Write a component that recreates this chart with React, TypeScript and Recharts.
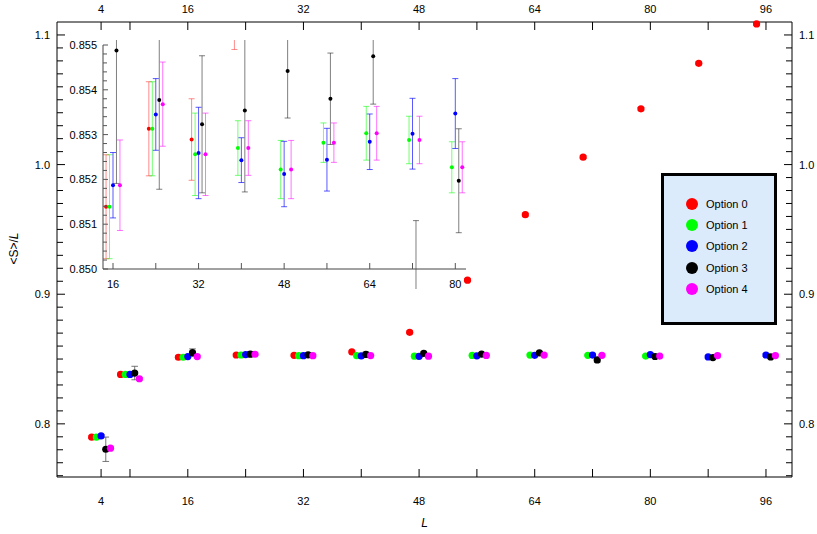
import React from 'react';
import { ScatterChart, Scatter, XAxis, YAxis, ErrorBar, Legend } from 'recharts';

// ---------- data ----------
const sizes = [4, 8, 16, 24, 32, 40, 48, 56, 64, 72, 80, 88, 96];
const seriesNames = ['Option 0', 'Option 1', 'Option 2', 'Option 3', 'Option 4'];

const opt0 = [0.7897, 0.8381, 0.85139, 0.85313, 0.85289, 0.8555, 0.8706, 0.9108, 0.9614, 1.0057, 1.043, 1.0781, 1.1085];
const err0 = [0.001, 0.001, 0.00116, 0.00105, 0.00091, 0.0006, 0.001, 0.001, 0.001, 0.001, 0.001, 0.001, 0.001];

const opt1 = [0.7897, 0.8381, 0.85139, 0.85313, 0.85256, 0.8527, 0.85222, 0.85282, 0.85303, 0.85288, 0.85227, null, null];
const err1 = [0.001, 0.001, 0.00116, 0.00105, 0.00092, 0.00061, 0.00065, 0.00044, 0.0006, 0.00053, 0.00057, null, null];

const opt2 = [0.7907, 0.8381, 0.85187, 0.85345, 0.85259, 0.85243, 0.85212, 0.85244, 0.85284, 0.85302, 0.85347, 0.8516, 0.8531];
const err2 = [0.001, 0.001, 0.00073, 0.0008, 0.00102, 0.0005, 0.00073, 0.0007, 0.00062, 0.00079, 0.00078, 0.001, 0.001];

const opt3 = [0.7804, 0.8392, 0.85488, 0.85377, 0.85323, 0.85354, 0.85442, 0.8538, 0.85475, 0.8493, 0.85197, 0.8511, 0.8516];
const err3 = [0.0094, 0.0052, 0.00297, 0.00199, 0.00153, 0.00182, 0.00105, 0.00102, 0.00107, 0.00178, 0.00116, 0.001, 0.001];

const opt4 = [0.7812, 0.8348, 0.85187, 0.85368, 0.85256, 0.8527, 0.85222, 0.85282, 0.85303, 0.85288, 0.85227, 0.8527, 0.8527];
const err4 = [0.001, 0.001, 0.00101, 0.00094, 0.00092, 0.00061, 0.00065, 0.00044, 0.0006, 0.00053, 0.00057, 0.001, 0.001];

// tick labels
const xTicks = [4, 8, 16, 24, 32, 40, 48, 56, 64, 72, 80, 88, 96];
const xLabels = [4, 16, 32, 48, 64, 80, 96];
const yLabels = [0.8, 0.9, 1.0, 1.1];
const insetXTicks = [16, 24, 32, 40, 48, 56, 64, 72, 80];
const insetXLabels = [16, 32, 48, 64, 80];
const insetYLabels = [0.85, 0.851, 0.852, 0.853, 0.854, 0.855];

// ---------- styling ----------
const FONT = '"Liberation Sans", Arial, sans-serif';
const colors = ['#ff0000', '#00ff00', '#0000ff', '#000000', '#ff00ff'];
const barOpacity = [0.45, 0.55, 0.65, 0.5, 0.55];
const dodge = [-1.3, -0.65, 0, 0.65, 1.3];

const values = [opt0, opt1, opt2, opt3, opt4];
const errors = [err0, err1, err2, err3, err4];

const seriesData = values.map((vals, s) =>
  sizes
    .map((L, i) => ({ L, x: L + dodge[s], y: vals[i], e: errors[s][i] }))
    .filter((d) => d.y != null)
);
const insetData = seriesData.map((arr) => arr.filter((d) => d.L >= 16 && d.L <= 80));

const yMinorTicks = Array.from({ length: 35 }, (_, i) => +(0.76 + i * 0.01).toFixed(2));
const insetYTicks = Array.from({ length: 26 }, (_, i) => +(0.85 + i * 0.0002).toFixed(4));

const near = (a: number, list: number[]) => list.some((b) => Math.abs(a - b) < 1e-7);

type TickOpts = {
  orient: 'top' | 'bottom' | 'left' | 'right';
  labels: number[];
  majors: number[];
  major: number;
  minor: number;
  gap: number;
  fmt: (v: number) => string;
  color: string;
};

const makeTick = (o: TickOpts) => (props: any) => {
  const { x, y, payload } = props;
  const v = payload.value as number;
  const len = near(v, o.majors) ? o.major : o.minor;
  let x2 = x, y2 = y, tx = x, ty = y;
  let anchor: 'middle' | 'end' | 'start' = 'middle';
  if (o.orient === 'bottom') { y2 = y - len; ty = y + o.gap; }
  else if (o.orient === 'top') { y2 = y + len; ty = y - o.gap; }
  else if (o.orient === 'left') { x2 = x + len; tx = x - o.gap; anchor = 'end'; }
  else { x2 = x - len; tx = x + o.gap; anchor = 'start'; }
  return (
    <g>
      <line x1={x} y1={y} x2={x2} y2={y2} stroke={o.color} strokeWidth={1} />
      {near(v, o.labels) && (
        <text x={tx} y={ty} textAnchor={anchor} dominantBaseline="central" fontSize={11} fontFamily={FONT} fill="#000">
          {o.fmt(v)}
        </text>
      )}
    </g>
  );
};

const dot = (color: string, r: number) => (p: any) =>
  p.cx == null || p.cy == null ? <g /> : <circle cx={p.cx} cy={p.cy} r={r} fill={color} />;
const noDot = () => <g />;

const LegendBox = (props: any) => {
  const payload = (props.payload || []).filter((it: any) => seriesNames.includes(it.value));
  return (
    <div
      style={{
        boxSizing: 'border-box',
        width: 116,
        height: 152,
        border: '3px solid #000',
        background: '#dcebfb',
        paddingTop: 17,
      }}
    >
      {payload.map((item: any, i: number) => (
        <div key={i} style={{ height: 21.4, display: 'flex', alignItems: 'center', position: 'relative' }}>
          <span
            style={{
              position: 'absolute',
              left: 22,
              width: 12,
              height: 12,
              borderRadius: 6,
              background: colors[seriesNames.indexOf(item.value)],
            }}
          />
          <span style={{ position: 'absolute', left: 42, fontSize: 11, fontFamily: FONT, color: '#000', lineHeight: '12px' }}>
            {item.value}
          </span>
        </div>
      ))}
    </div>
  );
};

const fmtInt = (v: number) => String(v);

export default function App() {
  const xDomain: [number, number] = [-2.1, 99.6];
  const yDomain: [number, number] = [0.759, 1.11];
  const inXDomain: [number, number] = [14.13, 82];
  const inYDomain: [number, number] = [0.85, 0.855];

  return (
    <div style={{ position: 'absolute', left: 0, top: 0, width: 817, height: 534, background: '#fff' }}>
      <div style={{ position: 'absolute', left: 0, top: 0 }}>
        <ScatterChart width={817} height={534} margin={{ top: 0, right: 0, bottom: 0, left: 0 }}>
          <XAxis
            xAxisId="b"
            orientation="bottom"
            type="number"
            dataKey="x"
            domain={xDomain}
            ticks={xTicks}
            interval={0}
            height={57}
            tickSize={0}
            tickMargin={0}
            tickLine={false}
            axisLine={{ stroke: '#000' }}
            tick={makeTick({ orient: 'bottom', labels: xLabels, majors: xTicks, major: 8, minor: 8, gap: 24, fmt: fmtInt, color: '#000' })}
            label={(p: any) => {
              const vb = p.viewBox || { x: 57, y: 477, width: 735, height: 57 };
              return (
                <text x={vb.x + vb.width / 2} y={vb.y + 46} textAnchor="middle" dominantBaseline="central" fontSize={12} fontStyle="italic" fontFamily={FONT} fill="#000">
                  L
                </text>
              );
            }}
          />
          <XAxis
            xAxisId="t"
            orientation="top"
            type="number"
            dataKey="x"
            domain={xDomain}
            ticks={xTicks}
            interval={0}
            height={22}
            tickSize={0}
            tickMargin={0}
            tickLine={false}
            axisLine={{ stroke: '#000' }}
            tick={makeTick({ orient: 'top', labels: xLabels, majors: xTicks, major: 8, minor: 8, gap: 13, fmt: fmtInt, color: '#000' })}
          />
          <YAxis
            yAxisId="l"
            orientation="left"
            type="number"
            dataKey="y"
            domain={yDomain}
            ticks={yMinorTicks}
            interval={0}
            width={57}
            tickSize={0}
            tickMargin={0}
            tickLine={false}
            axisLine={{ stroke: '#000' }}
            tick={makeTick({ orient: 'left', labels: yLabels, majors: yLabels, major: 8, minor: 6, gap: 7, fmt: (v) => v.toFixed(1), color: '#000' })}
            label={(p: any) => {
              const vb = p.viewBox || { x: 0, y: 22, width: 57, height: 455 };
              const cx = vb.x + 14;
              const cy = vb.y + vb.height / 2 - 1;
              return (
                <text x={cx} y={cy} transform={`rotate(-90 ${cx} ${cy})`} textAnchor="middle" dominantBaseline="central" fontSize={12} fontFamily={FONT} fill="#000">
                  {'<S>/'}
                  <tspan fontStyle="italic">L</tspan>
                </text>
              );
            }}
          />
          <YAxis
            yAxisId="r"
            orientation="right"
            type="number"
            dataKey="y"
            domain={yDomain}
            ticks={yMinorTicks}
            interval={0}
            width={25}
            tickSize={0}
            tickMargin={0}
            tickLine={false}
            axisLine={{ stroke: '#000' }}
            tick={makeTick({ orient: 'right', labels: yLabels, majors: yLabels, major: 8, minor: 6, gap: 7, fmt: (v) => v.toFixed(1), color: '#000' })}
          />
          <Scatter
            name="frame"
            data={seriesData[2]}
            xAxisId="t"
            yAxisId="r"
            legendType="none"
            isAnimationActive={false}
            shape={noDot}
          />
          {seriesData.map((data, s) => (
            <Scatter
              key={s}
              name={seriesNames[s]}
              data={data}
              xAxisId="b"
              yAxisId="l"
              fill={colors[s]}
              isAnimationActive={false}
              shape={dot(colors[s], 3.6)}
            >
              <ErrorBar dataKey="e" direction="y" width={3.3} stroke={colors[s] === '#000000' ? '#555' : colors[s]} strokeOpacity={0.8} strokeWidth={1} />
            </Scatter>
          ))}
          <Legend
            layout="vertical"
            align="center"
            verticalAlign="middle"
            wrapperStyle={{ left: 661, top: 173, width: 116, height: 152, margin: 0, padding: 0 }}
            content={LegendBox}
          />
        </ScatterChart>
      </div>

      <div style={{ position: 'absolute', left: 58, top: 40 }}>
        <ScatterChart width={408} height={249} margin={{ top: 5, right: 0, bottom: 0, left: 0 }}>
          <XAxis
            xAxisId="b"
            orientation="bottom"
            type="number"
            dataKey="x"
            domain={inXDomain}
            allowDataOverflow
            ticks={insetXTicks}
            interval={0}
            height={20}
            tickSize={0}
            tickMargin={0}
            tickLine={false}
            axisLine={{ stroke: '#444' }}
            tick={makeTick({ orient: 'bottom', labels: insetXLabels, majors: insetXTicks, major: 6, minor: 6, gap: 15, fmt: fmtInt, color: '#555' })}
          />
          <XAxis
            xAxisId="t"
            orientation="top"
            type="number"
            dataKey="x"
            domain={inXDomain}
            allowDataOverflow
            height={0}
            tick={false}
            tickLine={false}
            axisLine={{ stroke: '#444' }}
          />
          <YAxis
            yAxisId="l"
            orientation="left"
            type="number"
            dataKey="y"
            domain={inYDomain}
            allowDataOverflow
            ticks={insetYTicks}
            interval={0}
            width={45}
            tickSize={0}
            tickMargin={0}
            tickLine={false}
            axisLine={{ stroke: '#444' }}
            tick={makeTick({ orient: 'left', labels: insetYLabels, majors: insetYLabels, major: 5, minor: 4, gap: 6, fmt: (v) => v.toFixed(3), color: '#555' })}
          />
          <YAxis
            yAxisId="r"
            orientation="right"
            type="number"
            dataKey="y"
            domain={inYDomain}
            allowDataOverflow
            width={0}
            tick={false}
            tickLine={false}
            axisLine={{ stroke: '#888' }}
          />
          <Scatter
            name="frame"
            data={insetData[2]}
            xAxisId="t"
            yAxisId="r"
            legendType="none"
            isAnimationActive={false}
            shape={noDot}
          />
          {insetData.map((data, s) => (
            <Scatter
              key={s}
              name={seriesNames[s]}
              data={data}
              xAxisId="b"
              yAxisId="l"
              fill={colors[s]}
              isAnimationActive={false}
              shape={dot(colors[s], 2)}
            >
              <ErrorBar dataKey="e" direction="y" width={3} stroke={colors[s]} strokeOpacity={barOpacity[s]} strokeWidth={1} />
            </Scatter>
          ))}
        </ScatterChart>
      </div>
    </div>
  );
}
